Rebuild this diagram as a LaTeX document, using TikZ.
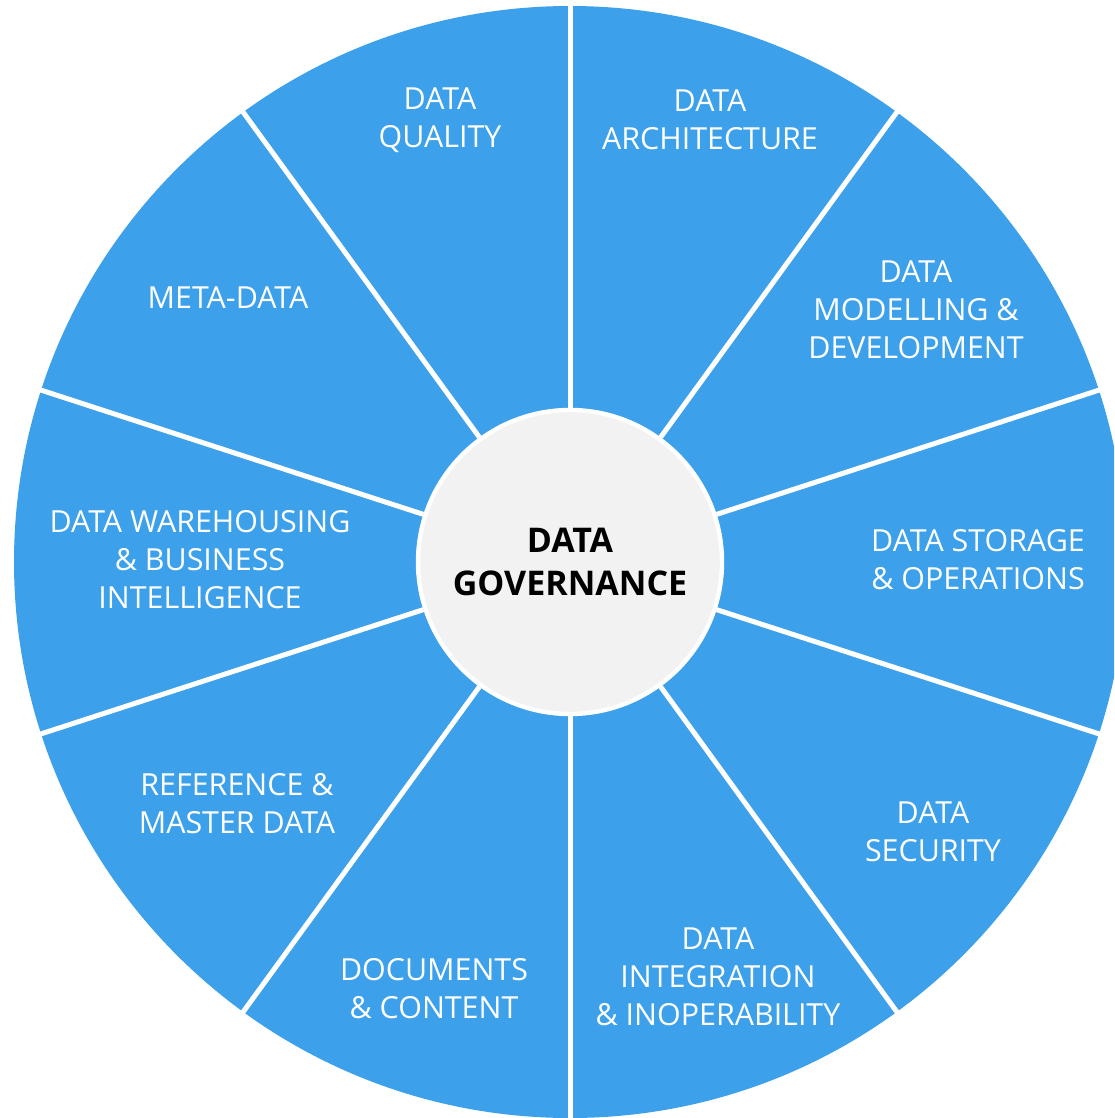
\documentclass[tikz,border=0pt]{standalone}
\usepackage{fontspec}
\setmainfont{Open Sans}
\definecolor{wheelblue}{HTML}{3CA0EA}
\definecolor{hubgray}{HTML}{F2F2F2}
\tikzset{
  hub/.style={circle, minimum size=152pt, inner sep=0pt, fill=hubgray, draw=white, line width=2.2pt,
    align=center, text=black, font=\fontsize{17}{21.5}\selectfont\bfseries},
  spoke/.style={draw=white, line width=2.5pt},
  lbl/.style={text=white, align=center, inner sep=0pt, font=\fontsize{15.2}{19}\selectfont}
}
\begin{document}
\begin{tikzpicture}[x=0.5pt,y=-0.5pt]
\useasboundingbox (0,0) rectangle (1114,1118);
\clip (0,0) rectangle (1114,1118);
\fill[wheelblue] (570,562) circle[radius=278pt];
\node[hub] (gov) at (570,562) {DATA\\GOVERNANCE};
\foreach \a in {90,54,18,-18,-54,-90,-126,-162,162,126}{
  \path (gov.center) ++(\a:290pt) coordinate (o\a);
  \draw[spoke] (gov) -- (o\a);
}
\node[lbl] (dq) at (440,120) {DATA\\QUALITY};
\node[lbl] (da) at (710,120) {DATA\\ARCHITECTURE};
\node[lbl] (dm) at (916,310) {DATA\\MODELLING \&\\DEVELOPMENT};
\node[lbl] (md) at (228,298) {META-DATA};
\node[lbl] (dw) at (200,560) {DATA WAREHOUSING\\\& BUSINESS\\INTELLIGENCE};
\node[lbl] (ds) at (978,560) {DATA STORAGE\\\& OPERATIONS};
\node[lbl] (rm) at (237,804) {REFERENCE \&\\MASTER DATA};
\node[lbl] (sec) at (933,832) {DATA\\SECURITY};
\node[lbl] (dc) at (434,989) {DOCUMENTS\\\& CONTENT};
\node[lbl] (di) at (718,977) {DATA\\INTEGRATION\\\& INOPERABILITY};
\end{tikzpicture}
\end{document}
